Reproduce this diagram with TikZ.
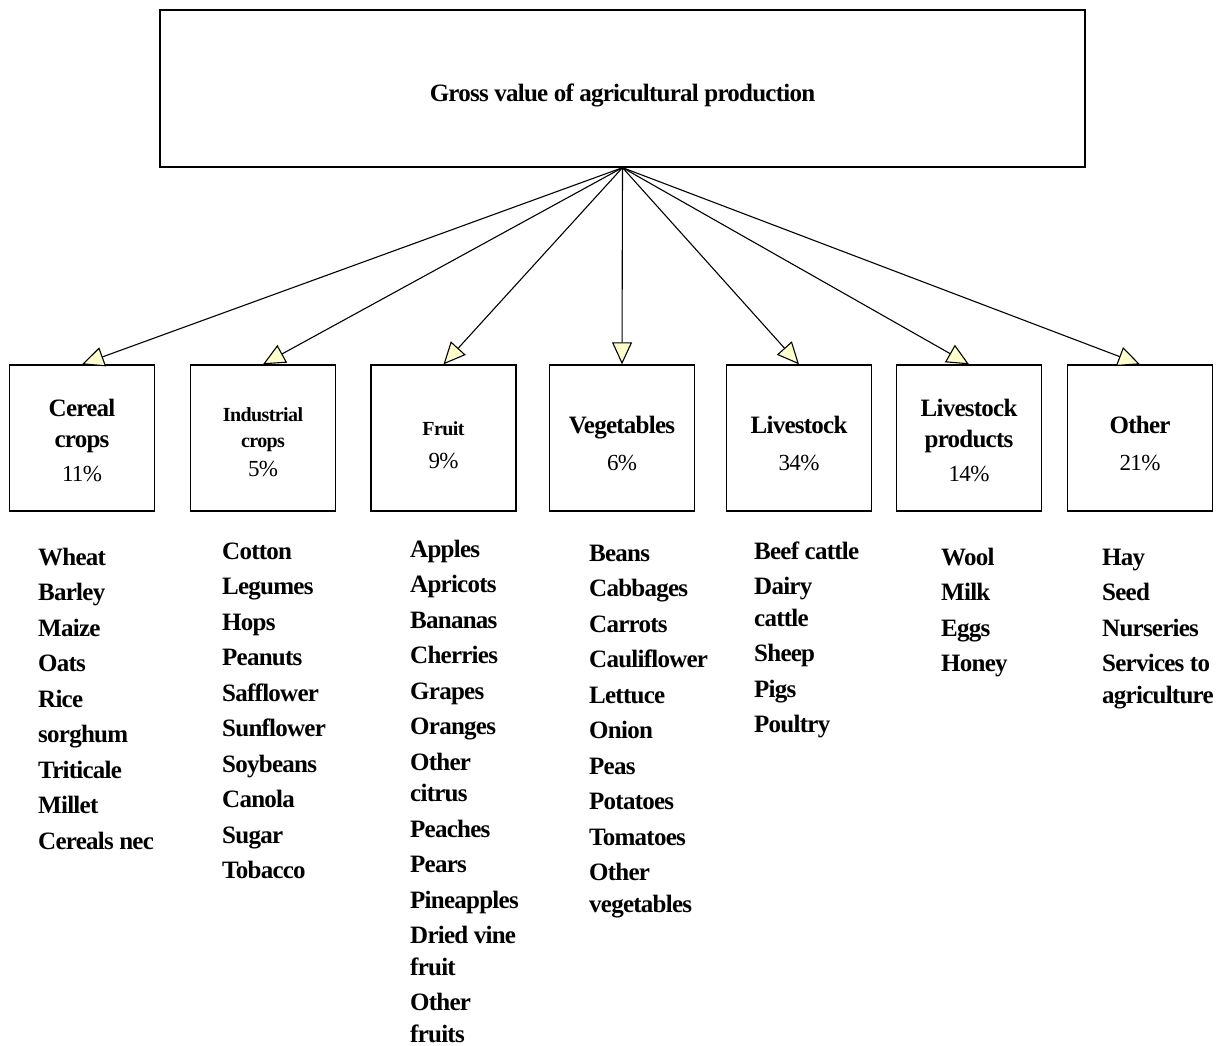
\documentclass[tikz,border=0pt]{standalone}
\usepackage{fontspec}
\setmainfont{Liberation Serif}[LetterSpace=-3]
\usetikzlibrary{arrows.meta}
\definecolor{tipfill}{HTML}{FFFFCC}
\newcommand{\share}[1]{{\mdseries\fontsize{23}{31}\selectfont #1}}
\newcommand{\padtop}[1]{\rule{0pt}{#1}}
\tikzset{
  catbox/.style={draw,line width=1.3pt,minimum width=145pt,minimum height=146pt,
    align=center,inner sep=0pt,font=\fontsize{25}{31}\selectfont\bfseries},
  croplist/.style={anchor=base west,align=left,inner sep=0pt,
    font=\fontsize{25}{35.5}\selectfont\bfseries},
  feed/.style={line width=1.1pt,-{Triangle[length=22pt,width=20pt,fill=tipfill]}}
}
\begin{document}
\begin{tikzpicture}[x=1pt,y=-1pt]
\useasboundingbox (0,0) rectangle (1220,1046);
\node[draw,line width=1.3pt,minimum width=925pt,minimum height=157pt,
  font=\fontsize{25}{31}\selectfont\bfseries] (gvap) at (622.5,88.5)
  {\raisebox{-13pt}[0pt][0pt]{Gross value of agricultural production}};

% categories
\node[catbox] (cereal) at (82,438) {\padtop{22pt}Cereal\\crops\\[3pt]\share{11\%}};
\node[catbox,font=\fontsize{20}{26}\selectfont\bfseries] (indust) at (263,438)
  {\padtop{22pt}Industrial\\crops\\[3pt]\share{5\%}};
\node[catbox,font=\fontsize{20}{33}\selectfont\bfseries] (fruit) at (443.5,438)
  {\padtop{29pt}Fruit\\\share{9\%}};
\node[catbox] (veg) at (622,438) {\padtop{28pt}Vegetables\\[6pt]\share{6\%}};
\node[catbox] (stock) at (799,438) {\padtop{28pt}Livestock\\[6pt]\share{34\%}};
\node[catbox] (prod) at (969,438) {\padtop{23pt}Livestock\\products\\[3pt]\share{14\%}};
\node[catbox] (other) at (1140,438) {\padtop{28pt}Other\\[6pt]\share{21\%}};

\foreach \c in {cereal,indust,fruit,veg,stock,prod,other}
  \draw[feed] (gvap.south) -- (\c.north);

% lists (anchored at the last baseline)
\node[croplist] (cerlist) at (38,849)
  {Wheat\\Barley\\Maize\\Oats\\Rice\\sorghum\\Triticale\\Millet\\Cereals nec};
\node[croplist] (indlist) at (222,878.5)
  {Cotton\\Legumes\\Hops\\Peanuts\\Safflower\\Sunflower\\Soybeans\\Canola\\Sugar\\Tobacco};
\node[croplist] (frulist) at (410,1042)
  {Apples\\Apricots\\Bananas\\Cherries\\Grapes\\Oranges\\Other\\[-4pt]citrus\\Peaches\\Pears\\Pineapples\\Dried vine\\[-4pt]fruit\\Other\\[-4pt]fruits};
\node[croplist] (veglist) at (589,912)
  {Beans\\Cabbages\\Carrots\\Cauliflower\\Lettuce\\Onion\\Peas\\Potatoes\\Tomatoes\\Other\\[-4pt]vegetables};
\node[croplist] (livlist) at (754,732.5)
  {Beef cattle\\Dairy\\[-4pt]cattle\\Sheep\\Pigs\\Poultry};
\node[croplist] (prdlist) at (941,671.5) {Wool\\Milk\\Eggs\\Honey};
\node[croplist] (othlist) at (1102,703)
  {Hay\\Seed\\Nurseries\\Services to\\[-4pt]agriculture};
\end{tikzpicture}
\end{document}
